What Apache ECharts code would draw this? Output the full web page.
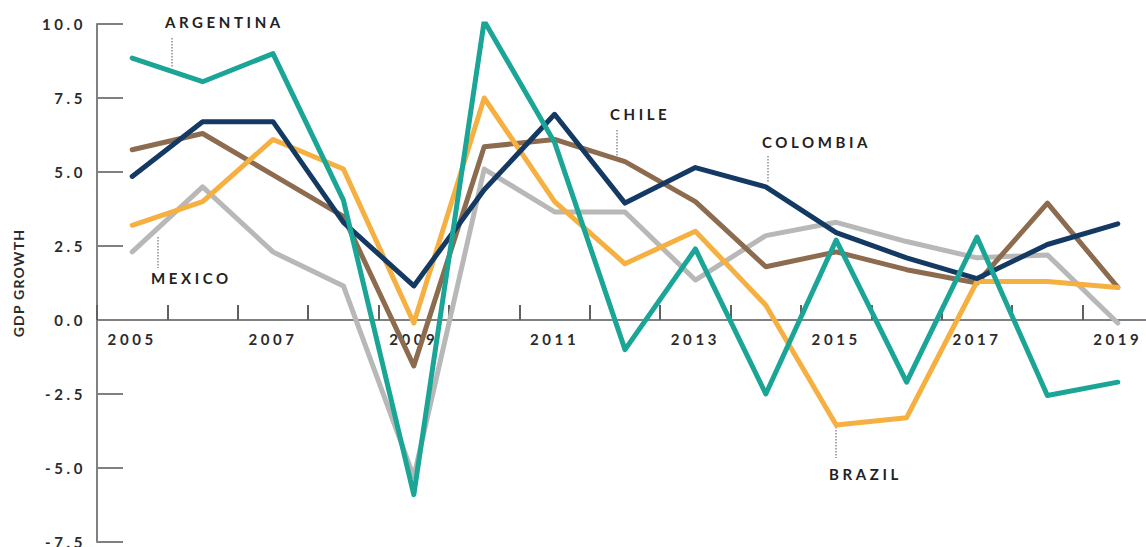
<!DOCTYPE html>
<html>
<head>
<meta charset="utf-8">
<script src="https://cdn.jsdelivr.net/npm/echarts@6/dist/echarts.min.js"></script>
<style>
  html, body { margin: 0; padding: 0; background: #fff; }
  #chart { width: 1146px; height: 547px; }
  /* spaced-out caps like the original */
  #chart svg text { letter-spacing: 3.6px; }
  #chart svg text[style*="14px"] { letter-spacing: 1.2px; }
</style>
</head>
<body>
<div id="chart"></div>
<script>
var years = ['2005', '2006', '2007', '2008', '2009', '2010', '2011', '2012',
             '2013', '2014', '2015', '2016', '2017', '2018', '2019'];

var argentina = [8.85, 8.05, 9.0, 4.05, -5.9, 10.1, 6.0, -1.0, 2.4, -2.5, 2.7, -2.1, 2.8, -2.55, -2.1];
var brazil    = [3.2, 4.0, 6.1, 5.1, -0.1, 7.5, 4.0, 1.9, 3.0, 0.5, -3.55, -3.3, 1.3, 1.3, 1.1];
var chile     = [5.75, 6.3, 4.9, 3.5, -1.55, 5.85, 6.1, 5.35, 4.0, 1.8, 2.3, 1.7, 1.25, 3.95, 1.1];
var colombia  = [4.85, 6.7, 6.7, 3.3, 1.15, 4.4, 6.95, 3.95, 5.15, 4.5, 2.95, 2.1, 1.4, 2.55, 3.25];
var mexico    = [2.3, 4.5, 2.3, 1.15, -5.3, 5.1, 3.65, 3.65, 1.35, 2.85, 3.3, 2.65, 2.1, 2.2, -0.1];

var yTicks = { min: -7.5, max: 10, step: 2.5 };

var chart = echarts.init(document.getElementById('chart'), null, { renderer: 'svg' });

function lineSeries(name, data, color, width, z) {
    return {
        name: name,
        type: 'line',
        data: data,
        symbol: 'none',
        z: z,
        lineStyle: { color: color, width: width, cap: 'round', join: 'round' },
        emphasis: { disabled: true }
    };
}

function note(text, x, y) {
    return {
        type: 'text', left: x, top: y,
        style: { text: text, font: 'bold 15px Lato', fill: '#222' }
    };
}
function leader(x, y1, y2) {
    return {
        type: 'line',
        shape: { x1: x, y1: y1, x2: x, y2: y2 },
        style: { stroke: '#555', lineWidth: 1, lineDash: [1.5, 1.5] }
    };
}

var axisGrey = '#808080';
var tickFont = { fontFamily: 'Lato', fontWeight: 'bold', fontSize: 15, color: '#2b2b2b' };

option = {
    animation: false,
    backgroundColor: '#fff',
    grid: { left: 97, top: 24, width: 1056, height: 518, outerBoundsMode: 'none' },
    xAxis: [
        {
            // axis line + ticks sitting on zero
            type: 'category',
            data: years,
            boundaryGap: true,
            axisLine: { onZero: true, lineStyle: { color: axisGrey, width: 2 } },
            axisTick: { show: true, inside: true, length: 15, interval: 0, lineStyle: { color: '#606060', width: 2 } },
            axisLabel: { show: false },
            splitLine: { show: false }
        },
        {
            // year labels just under the zero line
            type: 'category',
            data: years,
            boundaryGap: true,
            position: 'bottom',
            offset: -222,
            axisLine: { show: false, onZero: false },
            axisTick: { show: false },
            axisLabel: Object.assign({ interval: 1, margin: 11 }, tickFont),
            splitLine: { show: false }
        }
    ],
    yAxis: {
        type: 'value',
        min: yTicks.min,
        max: yTicks.max,
        interval: yTicks.step,
        name: 'GDP GROWTH',
        nameLocation: 'middle',
        nameGap: 72,
        nameRotate: 90,
        nameTextStyle: { fontFamily: 'Lato', fontWeight: 'bold', fontSize: 14, color: '#2b2b2b' },
        axisLine: { show: true, onZero: false, lineStyle: { color: axisGrey, width: 2 } },
        axisTick: { show: true, inside: true, length: 26, lineStyle: { color: axisGrey, width: 2 } },
        axisLabel: Object.assign({
            margin: 11,
            formatter: function (v) { return v.toFixed(1); }
        }, tickFont),
        splitLine: { show: false }
    },
    graphic: [
        note('ARGENTINA', 165, 14), leader(172, 38, 68),
        note('MEXICO', 151, 270), leader(158, 237, 268),
        note('CHILE', 610, 106), leader(617, 130, 157),
        note('COLOMBIA', 762, 134), leader(768, 156, 183),
        note('BRAZIL', 829, 466), leader(836, 427, 458)
    ],
    series: [
        lineSeries('Mexico', mexico, '#b8b8b8', 5, 1),
        lineSeries('Chile', chile, '#8c6b4e', 5, 2),
        lineSeries('Brazil', brazil, '#f5b041', 5, 3),
        lineSeries('Colombia', colombia, '#143a64', 5, 4),
        lineSeries('Argentina', argentina, '#1ba596', 5, 5)
    ]
};

chart.setOption(option);
</script>
</body>
</html>
